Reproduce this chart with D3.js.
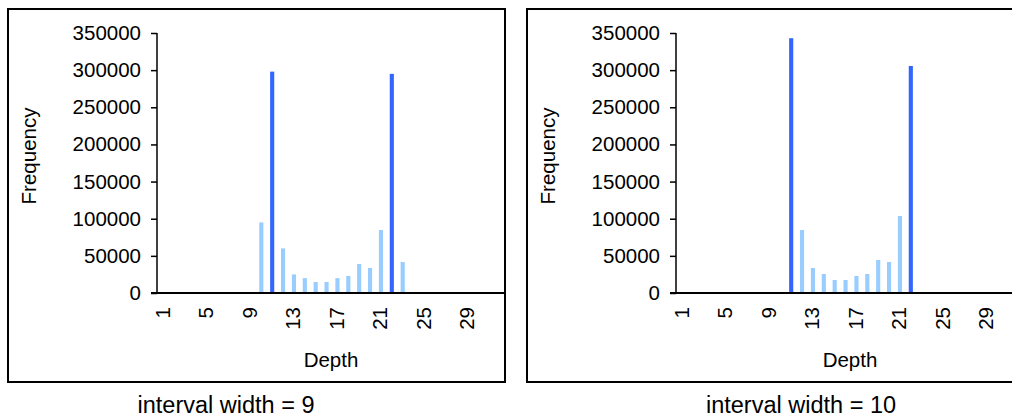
<!DOCTYPE html>
<html>
<head>
<meta charset="utf-8">
<script src="https://cdn.jsdelivr.net/npm/d3@7"></script>
<style>
  html, body { margin: 0; padding: 0; background: #fff; overflow: hidden; }
  svg { display: block; font-family: "Liberation Sans", Arial, sans-serif; }
</style>
</head>
<body>
<svg id="chart" width="1012" height="419"></svg>
<script>
// ---- data ----
const categories = [1,2,3,4,5,6,7,8,9,10,11,12,13,14,15,16,17,18,19,20,21,22,23,24,25,26,27,28,29,30,31,32];
const freqWidth9  = [0,0,0,0,0,0,0,0,0,95000,298000,60000,25000,20000,14800,14800,20000,22900,39000,33700,84800,295000,41700,0,0,0,0,0,0,0,0,0];
const freqWidth10 = [0,0,0,0,0,0,0,0,0,0,343000,84800,33700,25600,17500,17500,22900,25600,44400,41700,103700,305600,0,0,0,0,0,0,0,0,0,0];
const peaksWidth9  = [11, 22];
const peaksWidth10 = [11, 22];
const xTickLabels = [1,5,9,13,17,21,25,29];
const yTickValues = [0,50000,100000,150000,200000,250000,300000,350000];
const captions = ["interval width = 9", "interval width = 10"];
const xTitle = "Depth";
const yTitle = "Frequency";

const panels = [
  { values: freqWidth9,  peaks: peaksWidth9,  caption: captions[0], ox: 8,   capX: 226 },
  { values: freqWidth10, peaks: peaksWidth10, caption: captions[1], ox: 527, capX: 801 }
];

const svg = d3.select("#chart");
const boxW = 497, boxTop = 9, boxH = 373;
const plotLeft = 149, plotRight = 497, plotTop = 33, plotBottom = 293;

panels.forEach(p => {
  const g = svg.append("g").attr("transform", `translate(${p.ox},0)`);

  g.append("rect")
    .attr("x", 0).attr("y", boxTop).attr("width", boxW).attr("height", boxH)
    .attr("fill", "#fff").attr("stroke", "#000").attr("stroke-width", 2);

  const x = d3.scaleBand().domain(categories).range([plotLeft, plotRight]).paddingInner(0.62).paddingOuter(0.31);
  const y = d3.scaleLinear().domain([0, 350000]).range([plotBottom, plotTop]);

  // bars
  g.selectAll("rect.bar")
    .data(categories.map((c, i) => ({ c, v: p.values[i] })).filter(d => d.v > 0))
    .enter().append("rect")
    .attr("class", "bar")
    .attr("x", d => x(d.c) + 1)
    .attr("width", x.bandwidth())
    .attr("y", d => y(d.v))
    .attr("height", d => y(0) - y(d.v))
    .attr("fill", d => p.peaks.includes(d.c) ? "#3366FF" : "#99CCFF");

  // y axis
  const yAxis = d3.axisLeft(y).tickValues(yTickValues).tickSize(6).tickPadding(10)
    .tickFormat(d3.format("d"));
  const ya = g.append("g").attr("transform", `translate(${plotLeft},0)`).call(yAxis);
  ya.select(".domain").attr("stroke", "#000").attr("stroke-width", 1.5).attr("d", `M0,${plotTop}V${plotBottom}`);
  ya.selectAll(".tick line").attr("stroke", "#000").attr("stroke-width", 1.5);
  ya.selectAll(".tick text").attr("font-size", "20.5px").attr("fill", "#000")
    .attr("font-family", "Liberation Sans, Arial, sans-serif");

  // x axis
  const xAxis = d3.axisBottom(x).tickValues(xTickLabels).tickSize(0).tickPadding(14);
  const xa = g.append("g").attr("transform", `translate(0,${plotBottom})`).call(xAxis);
  xa.select(".domain").attr("stroke", "#000").attr("stroke-width", 2).attr("d", `M${plotLeft - 6},0H${plotRight}`);
  xa.selectAll(".tick text")
    .attr("font-size", "20.5px").attr("fill", "#000")
    .attr("font-family", "Liberation Sans, Arial, sans-serif")
    .attr("text-anchor", "end")
    .attr("transform", "rotate(-90)")
    .attr("x", -14).attr("y", 0).attr("dy", "0.35em");

  // axis titles
  g.append("text")
    .attr("x", (plotLeft + plotRight) / 2).attr("y", 367)
    .attr("text-anchor", "middle").attr("font-size", "20.5px").attr("fill", "#000")
    .text(xTitle);
  g.append("text")
    .attr("transform", `translate(27.5,156) rotate(-90)`)
    .attr("text-anchor", "middle").attr("font-size", "20.5px").attr("fill", "#000")
    .text(yTitle);

  // caption
  svg.append("text")
    .attr("x", p.capX).attr("y", 413)
    .attr("text-anchor", "middle").attr("font-size", "23.5px").attr("fill", "#000")
    .text(p.caption);
});
</script>
</body>
</html>
